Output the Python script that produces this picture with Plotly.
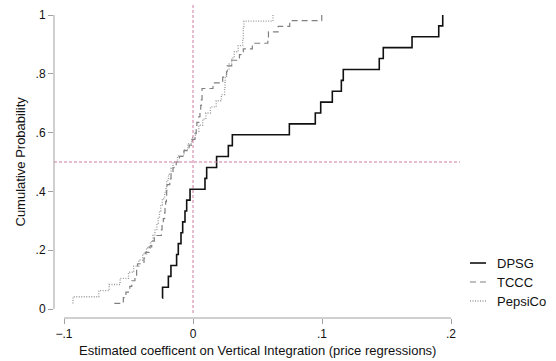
import numpy as np
import plotly.graph_objects as go

# ---- data (estimated coefficients) ----
series_names = ["DPSG", "TCCC", "PepsiCo"]

dpsg_coef = [-0.0238, -0.0236, -0.0191, -0.0171, -0.0127, -0.0114, -0.0093,
             -0.0080, -0.0062, -0.0049, -0.0023, 0.0093, 0.0106, 0.0183,
             0.0274, 0.0305, 0.0747, 0.0948, 0.0990, 0.1080, 0.1150, 0.1165,
             0.1444, 0.1475, 0.1698, 0.1905, 0.1936]

tccc_coef = [-0.0610, -0.0540, -0.0520, -0.0490, -0.0475, -0.0450, -0.0437,
             -0.0430, -0.0380, -0.0370, -0.0340, -0.0320, -0.0300, -0.0245,
             -0.0240, -0.0230, -0.0220, -0.0217, -0.0212, -0.0206, -0.0204,
             -0.0200, -0.0180, -0.0170, -0.0155, -0.0130, -0.0105, -0.0070,
             -0.0030, -0.0005, 0.0015, 0.0025, 0.0030, 0.0045, 0.0054, 0.0060,
             0.0065, 0.0070, 0.0070, 0.0155, 0.0230, 0.0260, 0.0265, 0.0300,
             0.0360, 0.0390, 0.0460, 0.0580, 0.0585, 0.0660, 0.0750, 0.0998]

pepsico_coef = [-0.0935, -0.0930, -0.0730, -0.0650, -0.0565, -0.0500, -0.0460,
                -0.0420, -0.0390, -0.0360, -0.0330, -0.0310, -0.0295, -0.0280,
                -0.0270, -0.0260, -0.0250, -0.0238, -0.0220, -0.0210, -0.0204,
                -0.0190, -0.0170, -0.0155, -0.0120, -0.0070, -0.0040, -0.0010,
                0.0018, 0.0045, 0.0075, 0.0100, 0.0135, 0.0180, 0.0220, 0.0245,
                0.0248, 0.0250, 0.0260, 0.0280, 0.0300, 0.0320, 0.0350, 0.0385,
                0.0390, 0.0390, 0.0395, 0.0620]

x_tick_vals = [-0.1, 0, 0.1, 0.2]
x_tick_text = ["\u2212.1", "0", ".1", ".2"]
y_tick_vals = [0, 0.2, 0.4, 0.6, 0.8, 1]
y_tick_text = ["0", ".2", ".4", ".6", ".8", "1"]
ref_x = 0
ref_y = 0.5

x_title = "Estimated coefficent on Vertical Integration (price regressions)"
y_title = "Cumulative Probability"

# ---- styles ----
FONT = "Liberation Sans, Arial, Helvetica, sans-serif"
styles = {
    "DPSG": dict(color="#111111", width=1.6, dash="solid"),
    "TCCC": dict(color="#808080", width=1.2, dash="6px,4px"),
    "PepsiCo": dict(color="#9a9a9a", width=1.3, dash="1px,1.5px"),
}
REF_COLOR = "#d27aa2"
AXIS_COLOR = "#a0a0a0"


def ecdf(vals):
    xs = np.sort(np.asarray(vals, dtype=float))
    ys = np.arange(1, len(xs) + 1) / len(xs)
    return xs, ys


fig = go.Figure()
for name, vals in zip(series_names, [dpsg_coef, tccc_coef, pepsico_coef]):
    xs, ys = ecdf(vals)
    fig.add_trace(go.Scatter(x=xs, y=ys, mode="lines", name=name,
                             line=dict(shape="hv", **styles[name]),
                             showlegend=False, hoverinfo="skip"))

shapes = []
# reference lines
shapes.append(dict(type="line", xref="x", yref="paper", x0=ref_x, x1=ref_x,
                   y0=0.016, y1=1, line=dict(color=REF_COLOR, width=1, dash="3px,2px")))
shapes.append(dict(type="line", xref="paper", yref="y", x0=0, x1=1,
                   y0=ref_y, y1=ref_y, line=dict(color=REF_COLOR, width=1, dash="3px,2px")))
# axis lines spanning only the tick range (Stata style)
shapes.append(dict(type="line", xref="paper", yref="y", x0=0, x1=0,
                   y0=min(y_tick_vals), y1=max(y_tick_vals),
                   line=dict(color=AXIS_COLOR, width=1)))
shapes.append(dict(type="line", xref="x", yref="paper", x0=min(x_tick_vals),
                   x1=max(x_tick_vals), y0=0, y1=0,
                   line=dict(color=AXIS_COLOR, width=1)))

# manual legend
annotations = []
leg_y = [0.1757, 0.115, 0.0543]
for name, ly in zip(series_names, leg_y):
    st = styles[name]
    shapes.append(dict(type="line", xref="paper", yref="paper", x0=1.0246, x1=1.064,
                       y0=ly, y1=ly, line=dict(color=st["color"], width=st["width"],
                                               dash=st["dash"])))
    annotations.append(dict(xref="paper", yref="paper", x=1.0862, y=ly, text=name,
                            showarrow=False, xanchor="left", yanchor="middle",
                            font=dict(family=FONT, size=13, color="#111111")))

# axis titles as annotations placed at fixed pixel offsets
annotations.append(dict(xref="x", yref="paper", x=0.05, y=0, yshift=-23,
                        text=x_title, showarrow=False, xanchor="center", yanchor="top",
                        font=dict(family=FONT, size=13, color="#111111")))
annotations.append(dict(xref="paper", yref="y", x=0, y=0.5, xshift=-25,
                        text=y_title, showarrow=False, textangle=-90,
                        xanchor="right", yanchor="middle",
                        font=dict(family=FONT, size=13, color="#111111")))

fig.update_layout(
    width=556, height=361,
    margin=dict(l=54, r=96, t=5, b=43, pad=0),
    paper_bgcolor="white", plot_bgcolor="white",
    font=dict(family=FONT, size=12, color="#111111"),
    shapes=shapes, annotations=annotations,
    showlegend=False,
)
fig.update_xaxes(range=[-0.10775, 0.20698], tickvals=x_tick_vals, ticktext=x_tick_text,
                 ticks="outside", ticklen=5, tickcolor=AXIS_COLOR, tickwidth=1,
                 showgrid=False, zeroline=False, showline=False, automargin=False,
                 tickfont=dict(size=12))
fig.update_yaxes(range=[-0.0306, 1.034], tickvals=y_tick_vals, ticktext=y_tick_text,
                 ticks="outside", ticklen=5, tickcolor=AXIS_COLOR, tickwidth=1,
                 showgrid=False, zeroline=False, showline=False, automargin=False,
                 tickfont=dict(size=12), tickangle=0)

fig.write_html("out.html",
               config={"displayModeBar": False},
               post_script="document.body.style.margin='0';"
                           "document.body.style.overflow='hidden';")
